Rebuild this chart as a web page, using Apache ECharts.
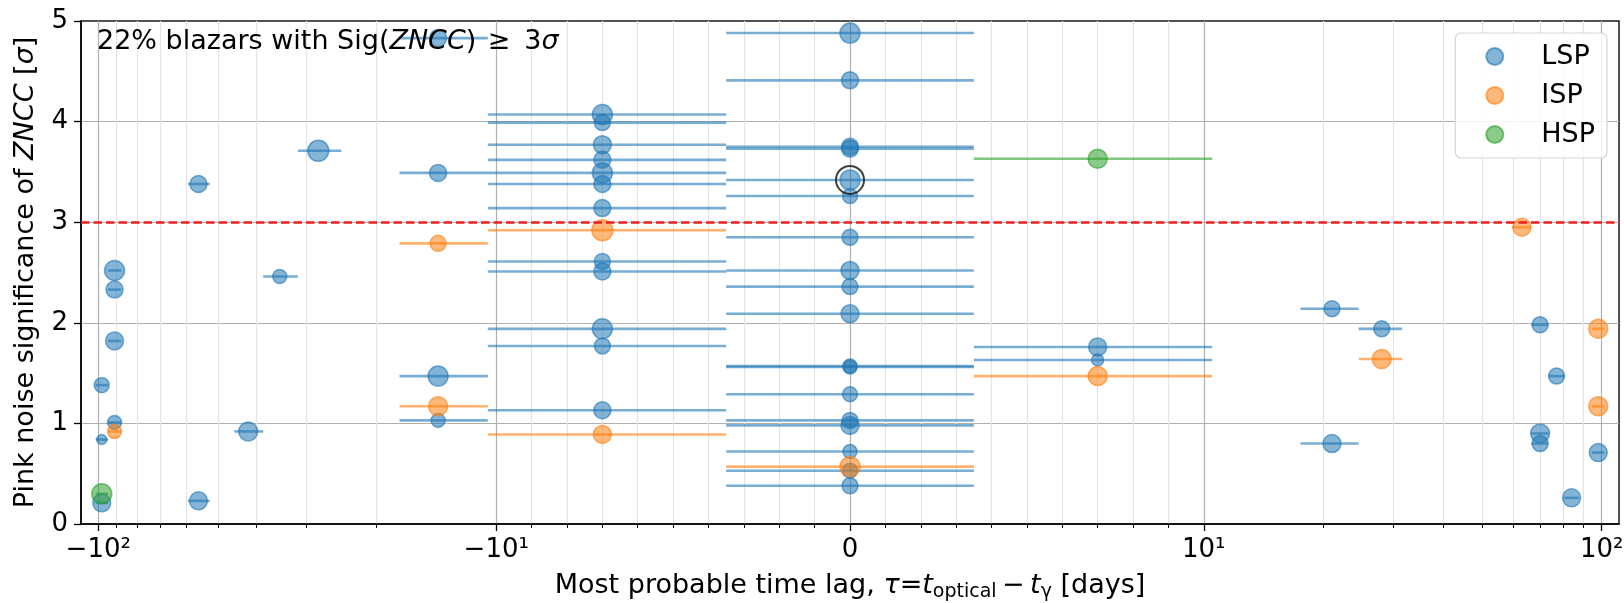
<!DOCTYPE html>
<html>
<head>
<meta charset="utf-8">
<script src="https://cdn.jsdelivr.net/npm/echarts@6/dist/echarts.min.js"></script>
<style>
  html, body { margin: 0; padding: 0; background: #fff; }
  #chart { width: 1624px; height: 603px; }
</style>
</head>
<body>
<div id="chart"></div>
<script>
// Most probable optical–gamma time lag (days), pink-noise significance of ZNCC (σ)
// and a relative marker weight for each blazar, split by synchrotron peak class.
const lspLag = [-98, -98, -98, -91, -91, -91, -91, -56, -56, -42, -35, -28,
  -14, -14, -14, -14,
  -7, -7, -7, -7, -7, -7, -7, -7, -7, -7, -7, -7,
  0, 0, 0, 0, 0, 0, 0, 0, 0, 0, 0, 0, 0, 0, 0, 0, 0, 0,
  7, 7, 21, 21, 28, 70, 70, 70, 77, 84, 98];
const lspSig = [1.38, 0.84, 0.21, 2.52, 2.33, 1.82, 1.01, 3.38, 0.23, 0.92, 2.46, 3.71,
  4.83, 3.49, 1.47, 1.03,
  4.07, 3.99, 3.77, 3.62, 3.49, 3.38, 3.14, 2.61, 2.51, 1.94, 1.77, 1.13,
  4.88, 4.41, 3.75, 3.73, 3.42, 3.26, 2.85, 2.52, 2.36, 2.09, 1.57, 1.56, 1.29, 1.03, 0.98, 0.72, 0.53, 0.38,
  1.76, 1.63, 2.14, 0.80, 1.94, 1.98, 0.90, 0.80, 1.47, 0.26, 0.71];
const lspWeight = [1.5, 1.0, 1.8, 2.0, 1.7, 1.8, 1.4, 1.7, 1.8, 1.9, 1.4, 2.1,
  1.7, 1.7, 2.0, 1.4,
  2.0, 1.6, 1.8, 1.7, 2.0, 1.7, 1.7, 1.6, 1.7, 2.0, 1.6, 1.7,
  2.0, 1.7, 1.7, 1.7, 2.0, 1.5, 1.6, 1.8, 1.6, 1.8, 1.4, 1.4, 1.5, 1.6, 1.8, 1.4, 1.5, 1.6,
  1.8, 1.2, 1.6, 1.8, 1.6, 1.6, 1.9, 1.6, 1.6, 1.8, 1.8];

const ispLag = [-91, -14, -14, -7, -7, 0, 7, 28, 63, 98, 98];
const ispSig = [0.92, 2.79, 1.17, 2.92, 0.89, 0.57, 1.47, 1.64, 2.95, 1.94, 1.17];
const ispWeight = [1.4, 1.6, 1.9, 2.1, 1.8, 2.0, 1.9, 1.9, 1.8, 1.9, 1.9];

const hspLag = [-98, 7];
const hspSig = [0.30, 3.63];
const hspWeight = [2.0, 1.9];

// Lags are binned weekly; the horizontal bars span half a bin on each side.
const LAG_HALF_BIN = 3.5;
// Detection threshold and the source singled out with a ring.
const SIG_THRESHOLD = 3;
const highlighted = { lag: 0, sig: 3.42 };

// Axis ticks (days) and their labels.
const xMajorTicks = [-100, -10, 0, 10, 100];
const xMajorLabels = ['−10²', '−10¹', '0', '10¹', '10²'];
const xMinorTicks = [-90, -80, -70, -60, -50, -40, -30, -20,
  -9, -8, -7, -6, -5, -4, -3, -2, -1, 1, 2, 3, 4, 5, 6, 7, 8, 9,
  20, 30, 40, 50, 60, 70, 80, 90];
const xLimit = 110.5;
const yTicks = [0, 1, 2, 3, 4, 5];

// Symmetric-log scale: linear within ±10 days, logarithmic outside.
const LIN_THRESH = 10;
const LIN_SCALE = 0.8 / (1 - 1 / 10);
function symlog(v) {
  const a = Math.abs(v);
  if (a <= LIN_THRESH) return (v / LIN_THRESH) * LIN_SCALE;
  return Math.sign(v) * (LIN_SCALE + Math.log10(a / LIN_THRESH));
}

const FONT = '"DejaVu Sans", "Liberation Sans", sans-serif';
const FS = 27;       // axis titles, legend, annotation
const FS_TICK = 26;  // tick labels
const COLORS = {
  LSP: [31, 119, 180],
  ISP: [255, 127, 14],
  HSP: [44, 160, 44]
};
const rgba = (c, a) => `rgba(${c[0]},${c[1]},${c[2]},${a})`;

function pointSeries(name, lag, sig, weight) {
  const c = COLORS[name];
  return {
    type: 'scatter',
    name: name,
    z: 3,
    data: lag.map((l, i) => [symlog(l), sig[i], weight[i]]),
    symbol: 'circle',
    symbolSize: d => d[2] * 10,
    itemStyle: { color: rgba(c, 0.55), borderColor: rgba(c, 0.6), borderWidth: 1.5, opacity: 1 },
    emphasis: { disabled: true },
    silent: true
  };
}

function errorSeries(name, lag, sig) {
  const c = COLORS[name];
  return {
    type: 'custom',
    name: name + ' range',
    z: 2,
    silent: true,
    data: lag.map((l, i) => [symlog(l - LAG_HALF_BIN), symlog(l + LAG_HALF_BIN), sig[i]]),
    encode: { x: [0, 1], y: 2 },
    renderItem: (params, api) => {
      const p0 = api.coord([api.value(0), api.value(2)]);
      const p1 = api.coord([api.value(1), api.value(2)]);
      return {
        type: 'line',
        shape: { x1: p0[0], y1: p0[1], x2: p1[0], y2: p1[1] },
        style: { stroke: rgba(c, 0.6), lineWidth: 2.6 }
      };
    }
  };
}

const majorPos = xMajorTicks.map(symlog);
const minorPos = xMinorTicks.map(symlog);

const chart = echarts.init(document.getElementById('chart'), null, { renderer: 'canvas' });

chart.setOption({
  animation: false,
  backgroundColor: '#ffffff',
  textStyle: { fontFamily: FONT },
  grid: {
    left: 81, right: 5, top: 21, bottom: 79,
    outerBoundsMode: 'none',
    containLabel: false,
    show: true, borderColor: '#1a1a1a', borderWidth: 1.5, backgroundColor: 'transparent'
  },
  xAxis: [
    {
      type: 'value',
      min: symlog(-xLimit), max: symlog(xLimit),
      position: 'bottom',
      axisLine: { show: true, onZero: false, lineStyle: { color: '#000', width: 1.5 } },
      axisTick: { show: true, customValues: majorPos, length: 7, lineStyle: { color: '#000', width: 1.3 } },
      axisLabel: {
        customValues: majorPos, margin: 13, color: '#000', fontSize: FS_TICK, fontFamily: FONT,
        formatter: v => {
          const i = majorPos.findIndex(p => Math.abs(p - v) < 1e-6);
          return i >= 0 ? xMajorLabels[i] : '';
        }
      },
      splitLine: { show: true, customValues: majorPos, lineStyle: { color: '#b0b0b0', width: 1.2 } },
      name: 'Most probable time lag, {i|τ}={i|t}{sub|optical}\u2009−\u2009{i|t}{sub|γ} [days]',
      nameLocation: 'middle',
      nameGap: 45,
      nameTextStyle: {
        color: '#000', fontSize: FS, fontFamily: FONT, lineHeight: 34,
        rich: {
          i: { fontStyle: 'italic', fontSize: FS, fontFamily: FONT, color: '#000', lineHeight: 34 },
          sub: { fontSize: 19, fontFamily: FONT, color: '#000', lineHeight: 19, padding: [12, 0, 0, 0] }
        }
      }
    },
    {
      type: 'value',
      min: symlog(-xLimit), max: symlog(xLimit),
      position: 'bottom',
      axisLine: { show: false, onZero: false },
      axisTick: { show: true, customValues: minorPos, length: 4, lineStyle: { color: '#000', width: 1 } },
      axisLabel: { show: false },
      splitLine: { show: true, customValues: minorPos, lineStyle: { color: '#e4e4e4', width: 1.2 } }
    }
  ],
  yAxis: {
    type: 'value',
    min: yTicks[0], max: yTicks[yTicks.length - 1], interval: 1,
    axisLine: { show: true, onZero: false, lineStyle: { color: '#000', width: 1.5 } },
    axisTick: { show: true, length: 7, lineStyle: { color: '#000', width: 1.3 } },
    axisLabel: { margin: 13, color: '#000', fontSize: FS_TICK, fontFamily: FONT },
    splitLine: { show: true, showMinLine: false, showMaxLine: false, lineStyle: { color: '#b0b0b0', width: 1.2 } },
    name: 'Pink noise significance of {i|ZNCC} [{i|σ}]',
    nameLocation: 'middle',
    nameGap: 42,
    nameTextStyle: {
      color: '#000', fontSize: FS, fontFamily: FONT,
      rich: { i: { fontStyle: 'italic', fontSize: FS, fontFamily: FONT, color: '#000' } }
    }
  },
  legend: {
    data: ['LSP', 'ISP', 'HSP'],
    orient: 'vertical',
    right: 17, top: 33,
    icon: 'circle',
    itemWidth: 17, itemHeight: 17, itemGap: 12,
    padding: [10, 12, 10, 30],
    backgroundColor: 'rgba(255,255,255,0.85)',
    borderColor: '#d6d6d6', borderWidth: 1.2, borderRadius: 6,
    textStyle: { color: '#000', fontSize: FS, fontFamily: FONT, padding: [0, 0, 0, 33] },
    selectedMode: false
  },
  graphic: [{
    type: 'text',
    left: 97, top: 28,
    z: 10,
    style: {
      text: '22% blazars with Sig({i|ZNCC}) \u200a≥\u2009 3{i|σ}',
      font: `${FS}px ${FONT}`,
      fill: '#000',
      rich: { i: { fontStyle: 'italic', fontSize: FS, fontFamily: FONT, fill: '#000' } }
    }
  }],
  series: [
    errorSeries('LSP', lspLag, lspSig),
    errorSeries('ISP', ispLag, ispSig),
    errorSeries('HSP', hspLag, hspSig),
    pointSeries('LSP', lspLag, lspSig, lspWeight),
    pointSeries('ISP', ispLag, ispSig, ispWeight),
    pointSeries('HSP', hspLag, hspSig, hspWeight),
    {
      type: 'scatter',
      name: 'highlighted',
      z: 5,
      silent: true,
      data: [[symlog(highlighted.lag), highlighted.sig]],
      symbol: 'circle',
      symbolSize: 28,
      itemStyle: { color: 'rgba(0,0,0,0)', borderColor: '#111', borderWidth: 2 },
      markLine: {
        silent: true,
        symbol: 'none',
        label: { show: false },
        lineStyle: { color: '#e8201e', type: [8.5, 4], width: 2.5 },
        data: [{ yAxis: SIG_THRESHOLD }]
      }
    }
  ]
});
</script>
</body>
</html>
